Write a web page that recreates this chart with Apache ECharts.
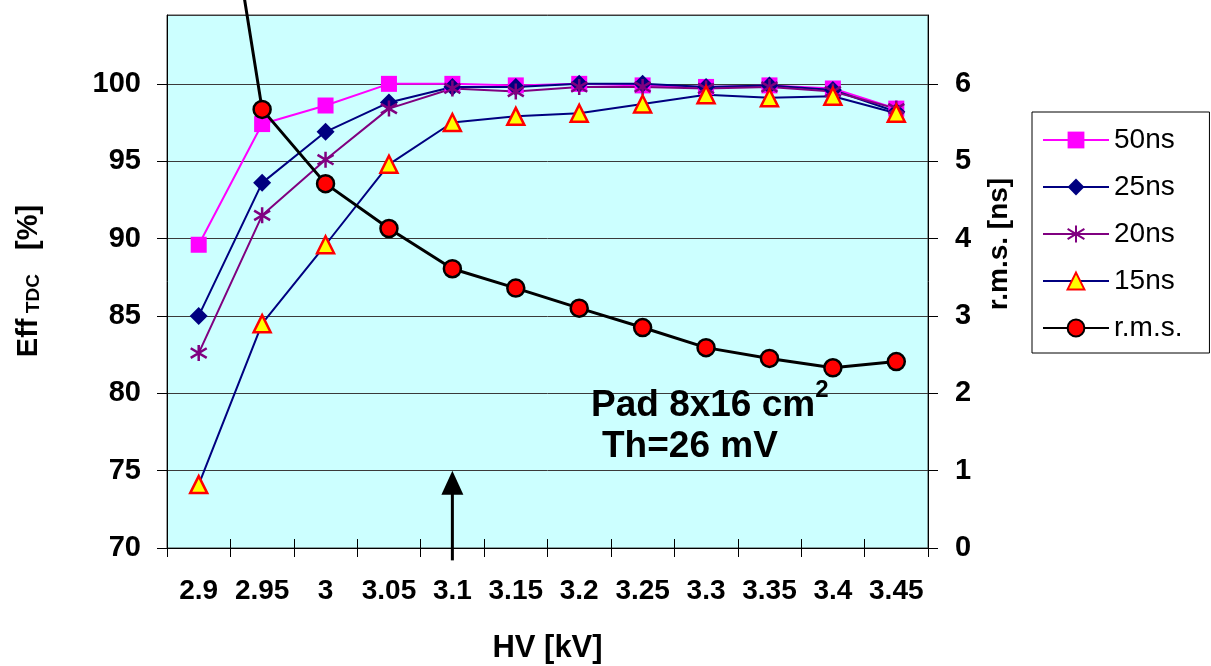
<!DOCTYPE html>
<html>
<head>
<meta charset="utf-8">
<script src="https://cdn.jsdelivr.net/npm/echarts@6/dist/echarts.min.js"></script>
<style>
  html, body { margin: 0; padding: 0; background: #ffffff; }
  #chart { width: 1211px; height: 666px; }
</style>
</head>
<body>
<div id="chart"></div>
<script>
// HV scan of a pad chamber: TDC efficiency for several gate widths and time resolution
const categories = ['2.9', '2.95', '3', '3.05', '3.1', '3.15', '3.2', '3.25', '3.3', '3.35', '3.4', '3.45'];
const eff50ns = [89.6, 97.4, 98.6, 100.0, 100.0, 99.9, 100.0, 99.9, 99.8, 99.9, 99.7, 98.4];
const eff25ns = [85.0, 93.6, 96.9, 98.8, 99.8, 99.8, 100.0, 100.0, 99.8, 99.9, 99.6, 98.2];
const eff20ns = [82.6, 91.5, 95.1, 98.4, 99.7, 99.5, 99.8, 99.8, 99.7, 99.8, 99.5, 98.4];
const eff15ns = [74.1, 84.5, 89.6, 94.8, 97.5, 97.9, 98.1, 98.7, 99.3, 99.1, 99.2, 98.1];
const rmsNs   = [10.8, 5.67, 4.71, 4.13, 3.61, 3.36, 3.10, 2.85, 2.59, 2.45, 2.33, 2.41];

// axis ranges
const effMin = 70, effMax = 104.45, effStep = 5;
const rmsMin = 0, rmsMax = 6.89, rmsStep = 1;

// operating point marker (category, arrow tip, arrow tail)
const arrowAt = '3.1', arrowTip = 75, arrowTail = 69.2;

const FONT = '"Liberation Sans", Arial, sans-serif';
const starPath = 'path://M0,-10L0,10M-8.7,-6L8.7,6M-8.7,6L8.7,-6';

const chart = echarts.init(document.getElementById('chart'), null, { renderer: 'canvas' });

const tickLabel = { fontFamily: FONT, fontSize: 29, fontWeight: 'bold', color: '#000' };

const option = {
  backgroundColor: '#ffffff',
  animation: false,
  textStyle: { fontFamily: FONT },
  grid: {
    left: 167, right: 283, top: 15, bottom: 118,
    containLabel: false, outerBoundsMode: 'none',
    show: true, backgroundColor: '#CCFFFF', borderColor: '#404040', borderWidth: 1
  },
  legend: {
    orient: 'vertical',
    left: 1032, top: 112,
    padding: [14, 27, 11, 10],
    itemWidth: 66, itemHeight: 21, itemGap: 19,
    backgroundColor: '#ffffff', borderColor: '#000000', borderWidth: 1,
    textStyle: { fontFamily: FONT, fontSize: 28, color: '#000' },
    data: ['50ns', '25ns', '20ns', '15ns', 'r.m.s.']
  },
  xAxis: [{
    type: 'category', data: categories, boundaryGap: true,
    axisLine: { lineStyle: { color: '#000', width: 1 } },
    axisTick: { show: true, length: 9, lineStyle: { color: '#000' } },
    axisLabel: Object.assign({ interval: 0, margin: 29 }, tickLabel, { fontSize: 28 }),
    name: 'HV [kV]', nameLocation: 'middle', nameGap: 85,
    nameTextStyle: { fontFamily: FONT, fontSize: 31, fontWeight: 'bold', color: '#000' }
  }, {
    // inner half of the crossing tick marks
    type: 'category', data: categories, boundaryGap: true, position: 'bottom',
    axisLine: { show: false },
    axisTick: { show: true, inside: true, length: 9, lineStyle: { color: '#000' } },
    axisLabel: { show: false }
  }],
  yAxis: [{
    type: 'value', min: effMin, max: effMax, interval: effStep,
    axisLine: { show: true, lineStyle: { color: '#000' } },
    axisTick: { show: true, length: 10, lineStyle: { color: '#000' } },
    axisLabel: Object.assign({ margin: 26, showMaxLabel: false }, tickLabel),
    splitLine: { show: true, lineStyle: { color: '#3a3a3a', width: 1 } }
  }, {
    type: 'value', min: rmsMin, max: rmsMax, interval: rmsStep, position: 'right',
    axisLine: { show: true, lineStyle: { color: '#000' } },
    axisTick: { show: true, length: 10, lineStyle: { color: '#000' } },
    axisLabel: Object.assign({ margin: 27, showMaxLabel: false }, tickLabel),
    splitLine: { show: false }
  }],
  series: [{
    name: '50ns', type: 'line', data: eff50ns, yAxisIndex: 0,
    symbol: 'rect', symbolSize: 16,
    lineStyle: { color: '#FF00FF', width: 2 },
    itemStyle: { color: '#FF00FF', borderColor: '#FF00FF', borderWidth: 0 }
  }, {
    name: '25ns', type: 'line', data: eff25ns, yAxisIndex: 0,
    symbol: 'diamond', symbolSize: 18,
    lineStyle: { color: '#000080', width: 2 },
    itemStyle: { color: '#000080', borderColor: '#000080', borderWidth: 0 }
  }, {
    name: '20ns', type: 'line', data: eff20ns, yAxisIndex: 0,
    symbol: starPath, symbolSize: 16,
    lineStyle: { color: '#800080', width: 2 },
    itemStyle: { color: '#800080', borderColor: '#800080', borderWidth: 2.5 }
  }, {
    name: '15ns', type: 'line', data: eff15ns, yAxisIndex: 0,
    symbol: 'triangle', symbolSize: 17,
    lineStyle: { color: '#000080', width: 2 },
    itemStyle: { color: '#FFFF00', borderColor: '#FF0000', borderWidth: 2.5 }
  }, {
    name: 'r.m.s.', type: 'line', data: rmsNs, yAxisIndex: 1, clip: false,
    symbol: 'circle', symbolSize: 17,
    lineStyle: { color: '#000000', width: 3 },
    itemStyle: { color: '#FF0000', borderColor: '#000000', borderWidth: 2.5 },
    z: 5
  }]
};

chart.setOption(option);

// annotation text, axis titles and the arrow pointing to the chosen working point
const tip = chart.convertToPixel({ xAxisIndex: 0, yAxisIndex: 0 }, [arrowAt, arrowTip]);
const tail = chart.convertToPixel({ xAxisIndex: 0, yAxisIndex: 0 }, [arrowAt, arrowTail]);
const headLen = 24, headHalf = 11;

chart.setOption({
  graphic: [{
    type: 'line', z: 100,
    shape: { x1: tip[0], y1: tip[1] + headLen - 2, x2: tail[0], y2: tail[1] },
    style: { stroke: '#000', lineWidth: 3 }
  }, {
    type: 'polygon', z: 100,
    shape: { points: [[tip[0], tip[1]], [tip[0] - headHalf, tip[1] + headLen], [tip[0] + headHalf, tip[1] + headLen]] },
    style: { fill: '#000' }
  }, {
    type: 'text', z: 100, x: 591, y: 378,
    style: {
      text: '{b|Pad 8x16 cm}{s|2}',
      verticalAlign: 'top',
      rich: {
        b: { fontFamily: FONT, fontSize: 37, fontWeight: 'bold', fill: '#000', lineHeight: 46, verticalAlign: 'bottom' },
        s: { fontFamily: FONT, fontSize: 24, fontWeight: 'bold', fill: '#000', lineHeight: 2, verticalAlign: 'top' }
      }
    }
  }, {
    type: 'text', z: 100, x: 602, y: 447,
    style: {
      text: 'Th=26 mV', fontFamily: FONT, fontSize: 37, fontWeight: 'bold', fill: '#000',
      verticalAlign: 'middle'
    }
  }, {
    // left axis title with a small TDC index
    type: 'text', z: 100, x: 29, y: 281, rotation: Math.PI / 2,
    style: {
      text: '{b|Eff}{s| TDC}{b|   [%]}',
      align: 'center', verticalAlign: 'middle',
      rich: {
        b: { fontFamily: FONT, fontSize: 29, fontWeight: 'bold', fill: '#000', verticalAlign: 'bottom' },
        s: { fontFamily: FONT, fontSize: 19, fontWeight: 'bold', fill: '#000', verticalAlign: 'bottom' }
      }
    }
  }, {
    type: 'text', z: 100, x: 999, y: 244, rotation: Math.PI / 2,
    style: {
      text: 'r.m.s. [ns]', fontFamily: FONT, fontSize: 28, fontWeight: 'bold', fill: '#000',
      align: 'center', verticalAlign: 'middle'
    }
  }]
});
</script>
</body>
</html>
